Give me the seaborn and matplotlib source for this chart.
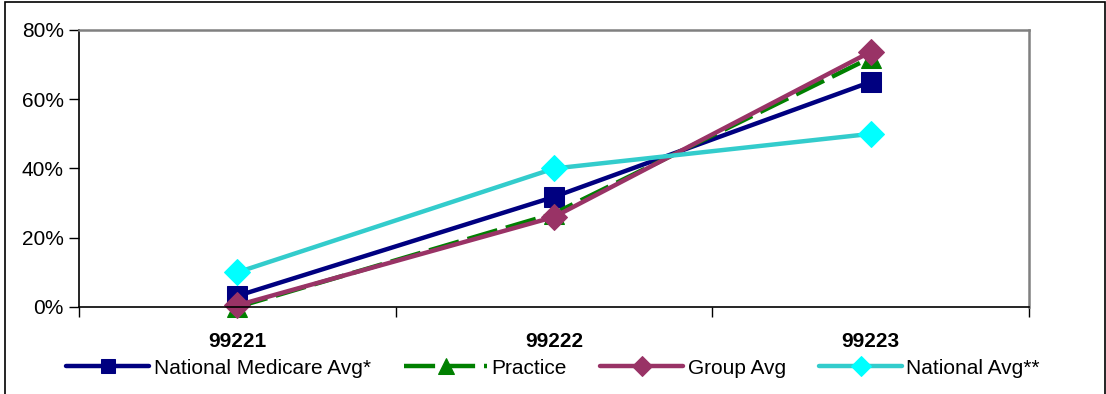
import matplotlib
matplotlib.use("Agg")
import matplotlib.pyplot as plt
import seaborn as sns
import pandas as pd
from matplotlib.patches import Rectangle
from matplotlib.ticker import PercentFormatter

# Data
codes = ["99221", "99222", "99223"]
national_medicare = [3.2, 31.8, 65.0]
practice = [0.0, 27.0, 72.0]
group_avg = [0.5, 26.0, 73.7]
national_avg = [10.0, 40.0, 50.0]

sns.set_style("white")
plt.rcParams["font.family"] = ["Liberation Sans", "DejaVu Sans"]
plt.rcParams["text.color"] = "black"
plt.rcParams["xtick.color"] = "black"
plt.rcParams["ytick.color"] = "black"

fig = plt.figure(figsize=(11.06, 3.94), dpi=100)
ax = fig.add_axes([79 / 1106, 1 - 307 / 394, (1029 - 79) / 1106, (307 - 30) / 394])

pos = list(range(len(codes)))
series = [
    ("National Medicare Avg*", national_medicare, "#000080", "#000080", "s", 14, "-"),
    ("Practice", practice, "#008000", "#008000", "^", 15, (0, (7, 2))),
    ("Group Avg", group_avg, "#993366", "#993366", "D", 13, "-"),
    ("National Avg**", national_avg, "#33CCCC", "#00FFFF", "D", 13, "-"),
]
for name, vals, lc, mc, mk, ms, ls in series:
    df = pd.DataFrame({"x": pos, "y": vals})
    sns.lineplot(data=df, x="x", y="y", ax=ax, color=lc, lw=3.2, linestyle=ls,
                 marker=mk, markersize=ms, markerfacecolor=mc, markeredgecolor=mc,
                 label=name, clip_on=False)

ax.set_xlim(-0.5, 2.5)
ax.set_ylim(0, 80)
ax.set_yticks([0, 20, 40, 60, 80])
ax.yaxis.set_major_formatter(PercentFormatter(decimals=0))
ax.set_xticks([-0.5, 0.5, 1.5, 2.5])
ax.set_xticklabels([])
ax.set_xticks(pos, minor=True)
ax.set_xticklabels(codes, minor=True, fontweight="bold", fontsize=15)
ax.tick_params(axis="x", which="major", direction="out", length=7, width=1, color="black", bottom=True)
ax.tick_params(axis="x", which="minor", length=0, pad=18, labelcolor="black")
ax.tick_params(axis="y", direction="out", length=7, width=1, color="black", left=True,
               labelsize=15, pad=4, labelcolor="black")
ax.set_xlabel("")
ax.set_ylabel("")
for s in ["left", "bottom"]:
    ax.spines[s].set_color("black")
    ax.spines[s].set_linewidth(1.2)
for s in ["top", "right"]:
    ax.spines[s].set_color("#808080")
    ax.spines[s].set_linewidth(1.8)
ax.grid(False)

handles, labels = ax.get_legend_handles_labels()
ax.get_legend().remove()
fig.legend(handles, labels, loc="center", bbox_to_anchor=(0.5, 1 - 368 / 394), ncol=4,
           frameon=False, fontsize=15, handlelength=4.0, columnspacing=1.6,
           handletextpad=0.2, borderpad=0, markerscale=0.75, labelcolor="black")

fig.patches.append(Rectangle((5 / 1106, -0.05), 1099.5 / 1106, 1.05 - 1.5 / 394,
                             transform=fig.transFigure, fill=False, edgecolor="black",
                             linewidth=1.2))

fig.savefig("out.png", dpi=100)
